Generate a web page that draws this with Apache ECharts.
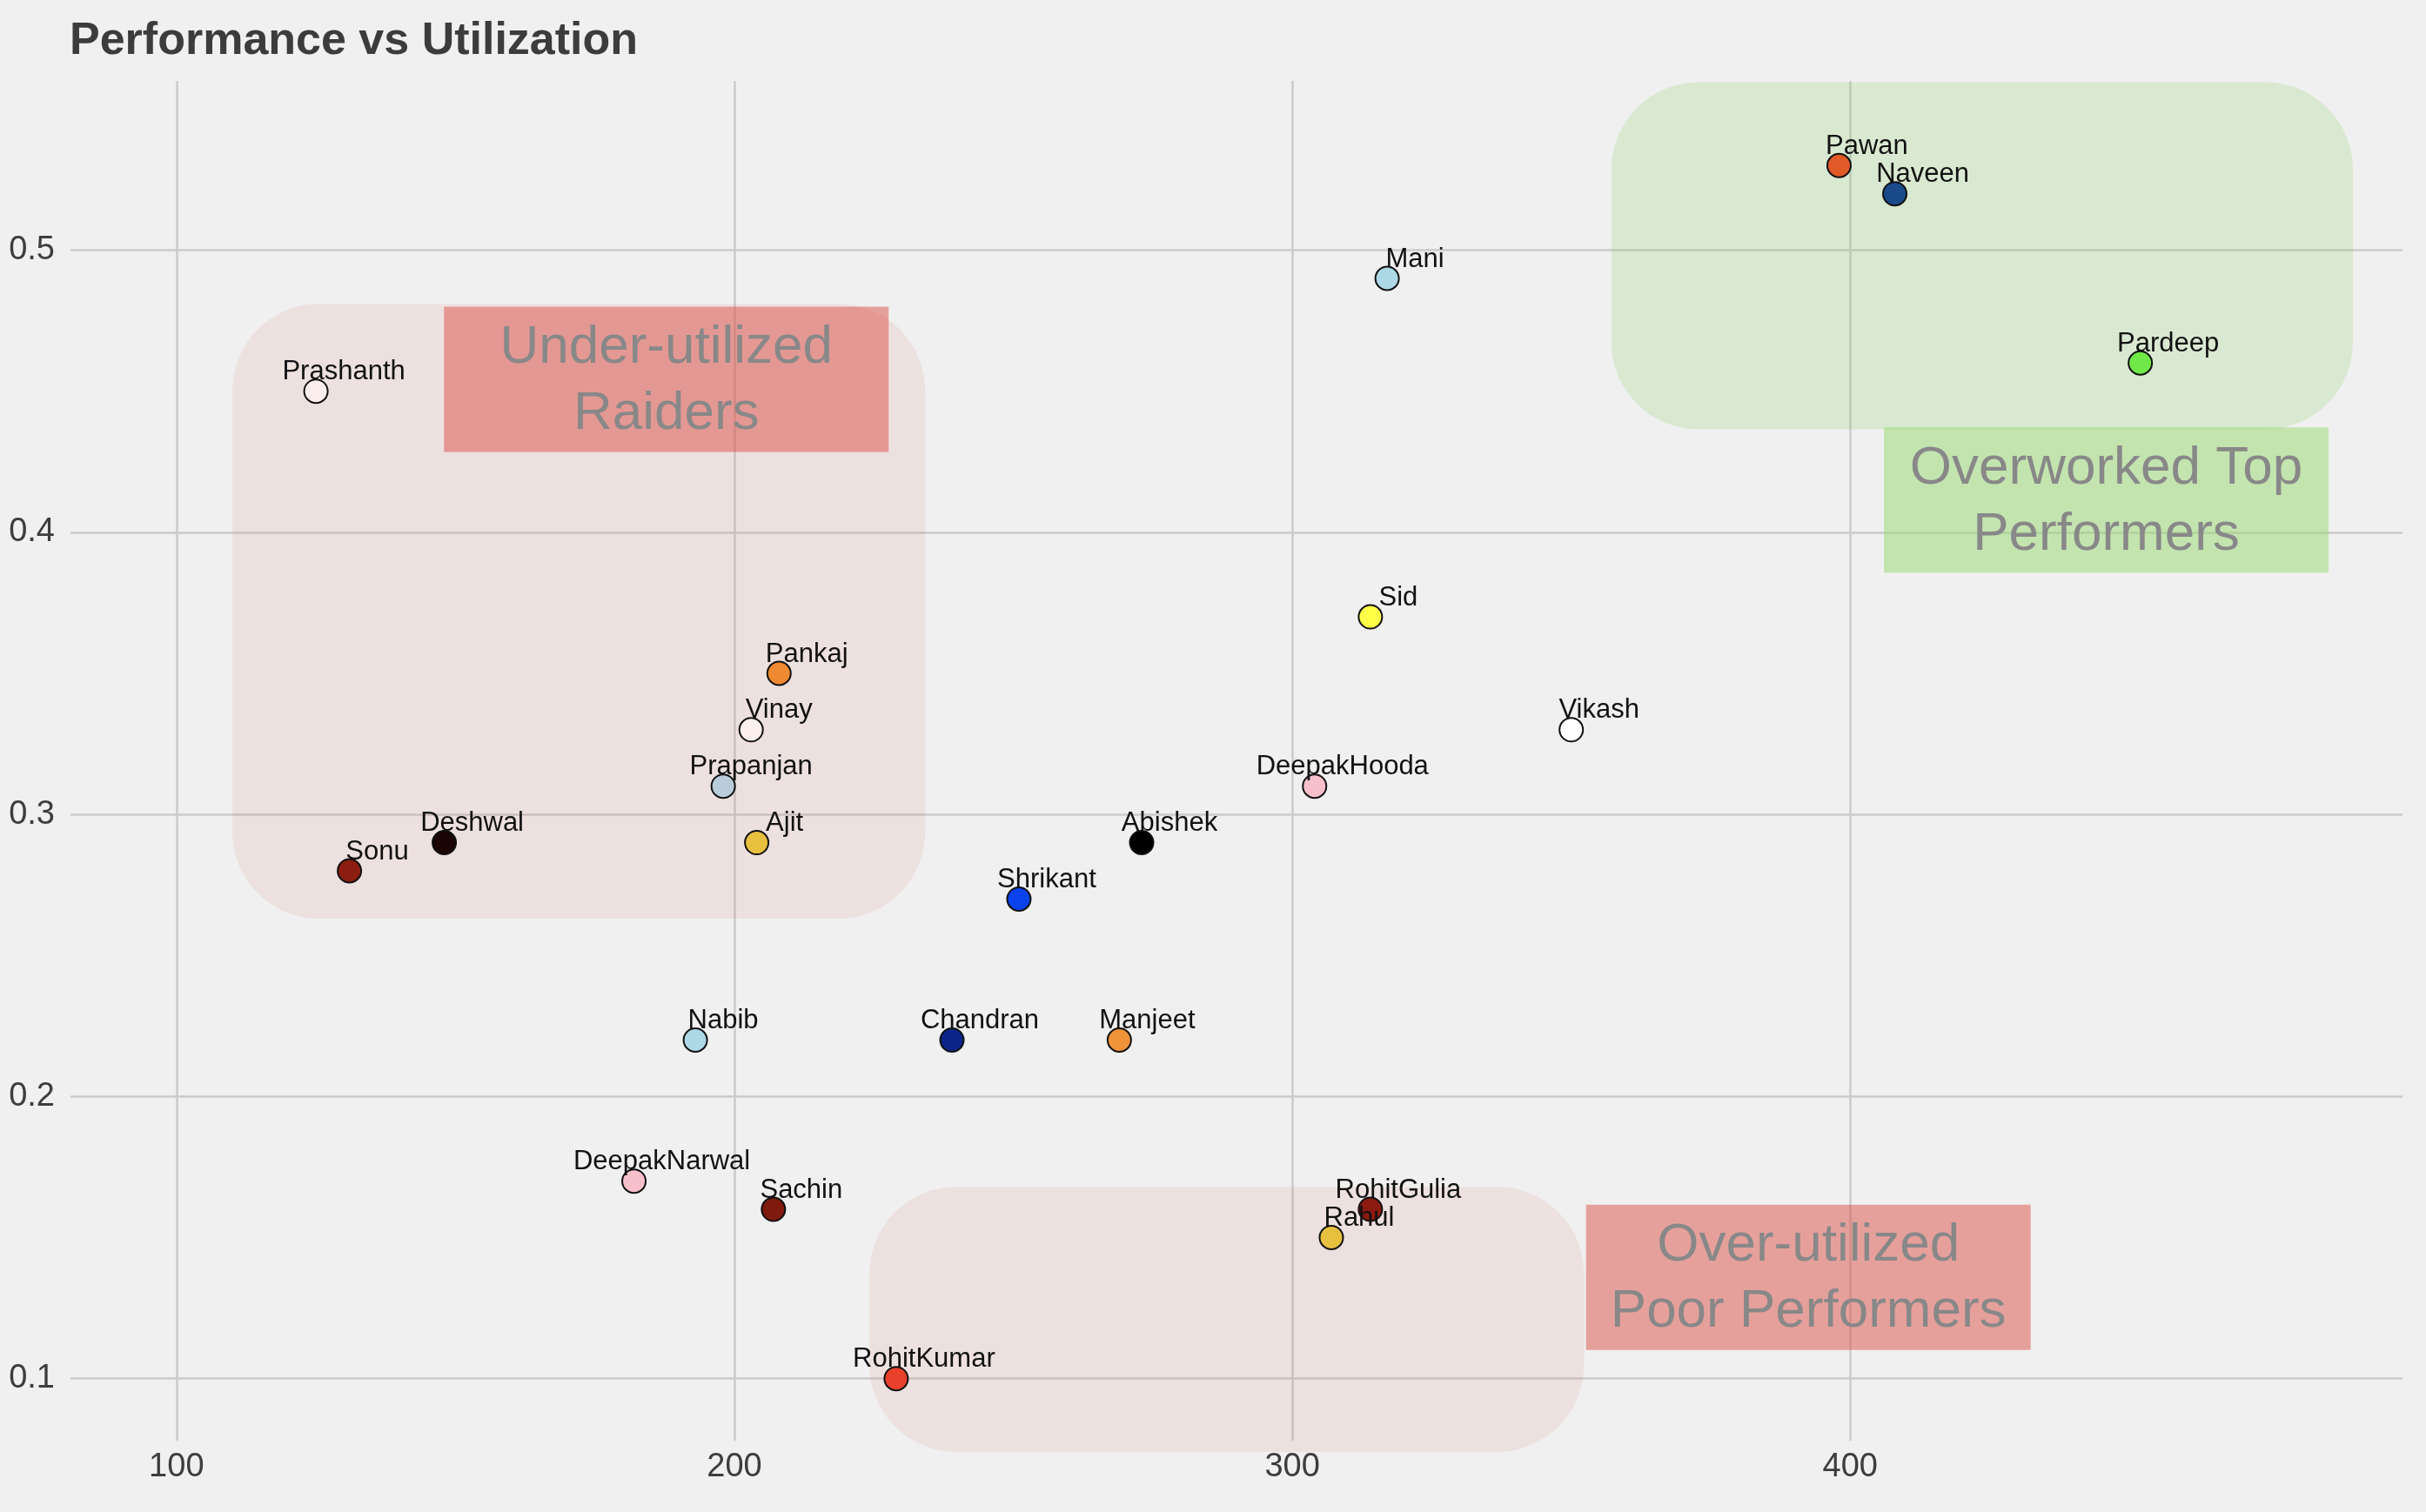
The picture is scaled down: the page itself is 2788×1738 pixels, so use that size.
<!DOCTYPE html>
<html>
<head>
<meta charset="utf-8">
<script src="https://cdn.jsdelivr.net/npm/echarts@6/dist/echarts.min.js"></script>
<style>
html,body{margin:0;padding:0;background:#f0f0f0;}
#chart{width:2788px;height:1738px;}
</style>
</head>
<body>
<div id="chart"></div>
<script>
// ---- data ----
const players = ['Prashanth','Sonu','Deshwal','Pankaj','Vinay','Prapanjan','Ajit','Nabib','DeepakNarwal','Sachin','RohitKumar','Chandran','Shrikant','Manjeet','Abishek','DeepakHooda','Sid','Mani','Vikash','RohitGulia','Rahul','Pawan','Naveen','Pardeep'];
const utilization = [125,131,148,208,203,198,204,193,182,207,229,239,251,269,273,304,314,317,350,314,307,398,408,452];
const performance = [0.45,0.28,0.29,0.35,0.33,0.31,0.29,0.22,0.17,0.16,0.10,0.22,0.27,0.22,0.29,0.31,0.37,0.49,0.33,0.16,0.15,0.53,0.52,0.46];
const pointColors = ['#fdeeee','#8b1e10','#1a0404','#f08a32','#fdf0ee','#b8cdd9','#e8c040','#add8e6','#f8c0cb','#7e1a0e','#e8402a','#0a2488','#0a42ee','#f0943a','#000000','#f8c0cb','#ffff48','#add8e6','#ffffff','#8b1a10','#e8c040','#e05a28','#1a4a8a','#70e848'];

// ---- annotations (data-space anchors) ----
const zones = [
  {x0:110, x1:234.2, y0:0.263, y1:0.481, fill:'rgba(220,120,115,0.13)'},
  {x0:357.2, x1:490.1, y0:0.4365, y1:0.5595, fill:'rgba(125,205,85,0.2)'},
  {x0:224.2, x1:352.3, y0:0.074, y1:0.168, fill:'rgba(220,120,115,0.13)'}
];
const notes = [
  {text:'Under-utilized\nRaiders', x:187.8, y:0.4542, fill:'rgba(220,80,70,0.5)'},
  {text:'Over-utilized\nPoor Performers', x:392.5, y:0.1359, fill:'rgba(220,80,70,0.5)'},
  {text:'Overworked Top\nPerformers', x:445.9, y:0.4114, fill:'rgba(150,215,110,0.5)'}
];

const FONT = '"Liberation Sans", Arial, Helvetica, sans-serif';
const chart = echarts.init(document.getElementById('chart'), null, {renderer:'canvas'});

const option = {
  backgroundColor:'#f0f0f0',
  animation:false,
  title:{
    text:'Performance vs Utilization',
    left:80, top:22, padding:0,
    textStyle:{fontFamily:FONT, fontSize:52, fontWeight:'bold', color:'#3c3c3c'}
  },
  grid:{left:81, right:27, top:93, bottom:82, containLabel:false},
  xAxis:{
    type:'value', min:81, max:499, splitNumber:5,
    axisLine:{show:false}, axisTick:{show:false},
    axisLabel:{showMinLabel:false, showMaxLabel:false, margin:12,
      fontFamily:FONT, fontSize:38, color:'#3d3d3d'},
    splitLine:{show:true, lineStyle:{color:['rgba(0,0,0,0)','#cbcbcb','#cbcbcb','#cbcbcb','#cbcbcb','rgba(0,0,0,0)'], width:2.5}}
  },
  yAxis:{
    type:'value', min:0.078, max:0.56, splitNumber:5,
    axisLine:{show:false}, axisTick:{show:false},
    axisLabel:{showMinLabel:false, showMaxLabel:false, margin:18,
      fontFamily:FONT, fontSize:38, color:'#3d3d3d',
      formatter:v => (Math.round(v*10)/10).toString()},
    splitLine:{show:true, lineStyle:{color:['rgba(0,0,0,0)','#cbcbcb','#cbcbcb','#cbcbcb','#cbcbcb','#cbcbcb','rgba(0,0,0,0)'], width:2.5}}
  },
  series:[{
    type:'scatter',
    z:5,
    symbol:'circle',
    symbolSize:27,
    data: players.map((n,i)=>({name:n, value:[utilization[i], performance[i]], itemStyle:{color:pointColors[i]}})),
    itemStyle:{borderColor:'#111', borderWidth:2, opacity:1},
    label:{show:true, position:'top', distance:0, offset:[32,8], formatter:'{b}',
      fontFamily:FONT, fontSize:31, color:'#111'},
    emphasis:{disabled:true}
  }]
};
chart.setOption(option);

function buildGraphics(){
  const g = [];
  zones.forEach(z=>{
    const p0 = chart.convertToPixel({gridIndex:0},[z.x0, z.y1]);
    const p1 = chart.convertToPixel({gridIndex:0},[z.x1, z.y0]);
    g.push({type:'rect', z:1, silent:true,
      shape:{x:p0[0], y:p0[1], width:p1[0]-p0[0], height:p1[1]-p0[1], r:100},
      style:{fill:z.fill}});
  });
  const W = 511, H = 167;
  notes.forEach(n=>{
    const c = chart.convertToPixel({gridIndex:0},[n.x, n.y]);
    g.push({type:'rect', z:1, silent:true,
      shape:{x:c[0]-W/2, y:c[1]-H/2, width:W, height:H},
      style:{fill:n.fill}});
    g.push({type:'text', z:1, silent:true, x:c[0], y:c[1]+2,
      style:{text:n.text, fill:'#888888', font:'62px '+FONT, align:'center', verticalAlign:'middle', lineHeight:76}});
  });
  return g;
}
chart.setOption({graphic:buildGraphics()});
</script>
</body>
</html>
